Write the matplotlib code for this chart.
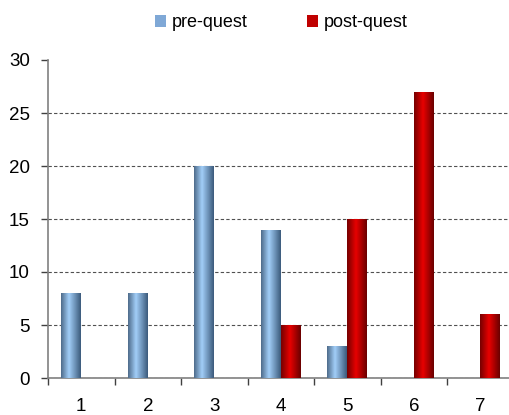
import numpy as np
import matplotlib
matplotlib.use('Agg')
import matplotlib.pyplot as plt
from matplotlib.colors import LinearSegmentedColormap
from matplotlib.patches import Patch

categories = ['1', '2', '3', '4', '5', '6', '7']
pre_quest = [8, 8, 20, 14, 3, 0, 0]
post_quest = [0, 0, 0, 5, 15, 27, 6]
series_labels = ['pre-quest', 'post-quest']

plt.rcParams['font.family'] = ['Liberation Sans', 'DejaVu Sans']

blue_cmap = LinearSegmentedColormap.from_list(
    'blue_bar', [(0, '#4e6c8b'), (0.4, '#a2cef8'), (1, '#3c5b7c')])
red_cmap = LinearSegmentedColormap.from_list(
    'red_bar', [(0, '#760000'), (0.45, '#e80000'), (1, '#6a0000')])

fig = plt.figure(figsize=(5.09, 4.15), dpi=100)
ax = fig.add_axes([48 / 509, 37 / 415, 465.5 / 509, 318 / 415])

x = np.arange(1, len(categories) + 1)
width = 0.3
gradient = np.linspace(0, 1, 64).reshape(1, -1)


def gradient_bars(xs, values, cmap):
    bars = ax.bar(xs, values, width=width, align='edge', color='none',
                  edgecolor='none', zorder=3)
    for bar in bars:
        h = bar.get_height()
        if h <= 0:
            continue
        x0 = bar.get_x()
        im = ax.imshow(gradient, cmap=cmap, aspect='auto',
                       extent=(x0, x0 + bar.get_width(), 0, h),
                       zorder=3, interpolation='bilinear')
        im.set_clip_path(bar)
    return bars


gradient_bars(x - width, pre_quest, blue_cmap)
gradient_bars(x, post_quest, red_cmap)

ax.set_xlim(0.5, 7.5)
ax.set_ylim(0, 30)
ax.set_yticks(np.arange(0, 31, 5))
ax.yaxis.grid(True, linestyle=(0, (3, 2)), color='#505050', linewidth=0.8)
for gl in ax.yaxis.get_gridlines()[-1:]:
    gl.set_visible(False)
ax.set_axisbelow(True)

ax.set_xticks(x)
ax.set_xticklabels(categories)
ax.set_xticks(np.arange(0.5, 8, 1), minor=True)
ax.tick_params(axis='x', which='major', length=0, pad=14.5, labelsize=13.5)
ax.tick_params(axis='x', which='minor', length=5, width=1, color='#404040',
               direction='out')
ax.tick_params(axis='y', length=5, width=1, color='#404040', pad=8,
               labelsize=13.5)

for side in ['top', 'right']:
    ax.spines[side].set_visible(False)
for side in ['left', 'bottom']:
    ax.spines[side].set_color('#808080')
    ax.spines[side].set_linewidth(1.2)

handles = [Patch(facecolor='#7fa8d6', edgecolor='none'),
           Patch(facecolor='#c00000', edgecolor='none')]
fig.legend(handles, series_labels, loc='center', ncol=2,
           bbox_to_anchor=(0.552, 0.945), frameon=False, fontsize=13,
           handlelength=0.62, handleheight=0.62, handletextpad=0.3,
           columnspacing=3.3)

fig.savefig('out.png', dpi=100)
